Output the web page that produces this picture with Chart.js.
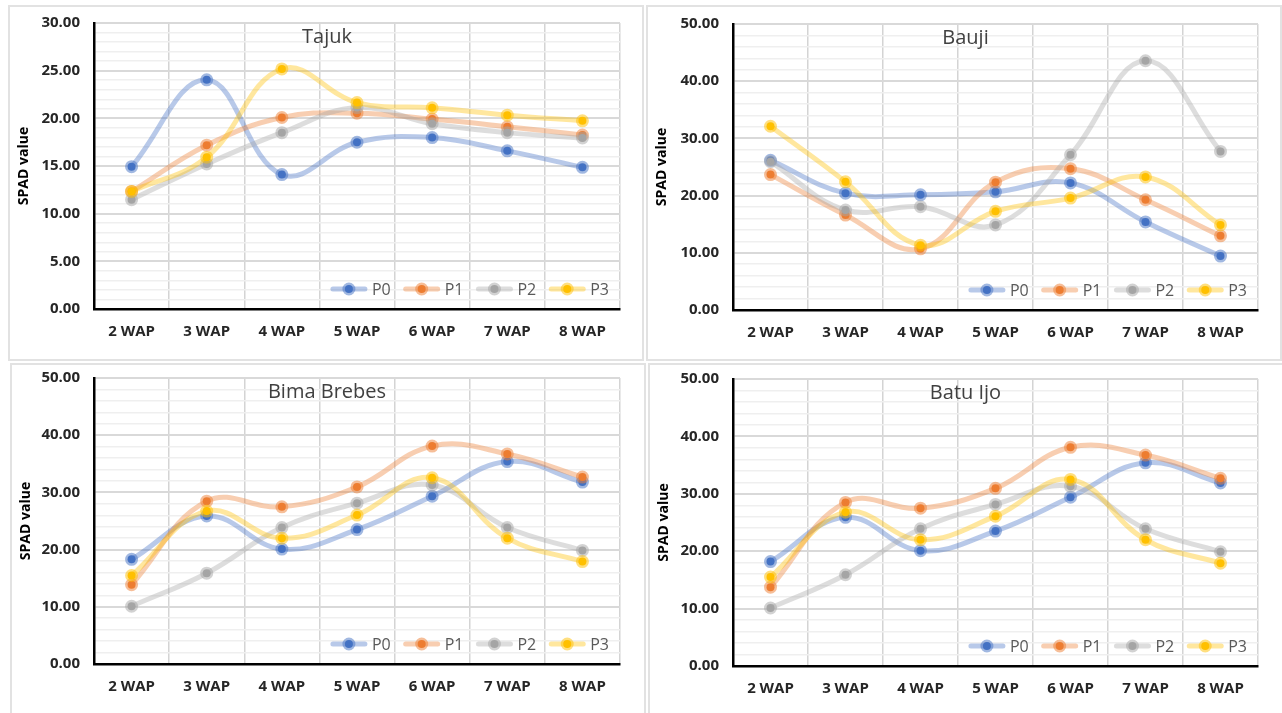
<!DOCTYPE html>
<html>
<head>
<meta charset="utf-8">
<script src="https://cdn.jsdelivr.net/npm/chart.js@4.4.1/dist/chart.umd.min.js"></script>
<style>
  html, body { margin: 0; padding: 0; background: #fff; }
  body { width: 1282px; height: 713px; position: relative; overflow: hidden; }
  .panel { position: absolute; border: 2px solid #e2e2e2; background: #fff; overflow: hidden; }
  .panel canvas { display: block; }
</style>
</head>
<body>
<div class="panel" style="left:8px;top:5px;width:632px;height:352px;"><canvas id="c1" width="632" height="359" style="margin-top:-7px"></canvas></div>
<div class="panel" style="left:646px;top:5px;width:632px;height:352px;"><canvas id="c2" width="632" height="358" style="margin-top:-6px"></canvas></div>
<div class="panel" style="left:10px;top:363px;width:632px;height:352px;"><canvas id="c3" width="632" height="362" style="margin-top:-10px"></canvas></div>
<div class="panel" style="left:648px;top:363px;width:632px;height:352px;"><canvas id="c4" width="632" height="361" style="margin-top:-9px"></canvas></div>
<script>
// categories and series
var categories = ['2 WAP', '3 WAP', '4 WAP', '5 WAP', '6 WAP', '7 WAP', '8 WAP'];
var seriesNames = ['P0', 'P1', 'P2', 'P3'];

// Tajuk
var tajukP0 = [14.93, 24.04, 14.10, 17.49, 17.98, 16.59, 14.86];
var tajukP1 = [12.33, 17.18, 20.09, 20.54, 19.92, 19.12, 18.25];
var tajukP2 = [11.47, 15.21, 18.50, 21.13, 19.43, 18.50, 17.94];
var tajukP3 = [12.33, 15.93, 25.18, 21.65, 21.10, 20.33, 19.74];

// Bauji
var baujiP0 = [26.16, 20.43, 20.14, 20.66, 22.22, 15.39, 9.43];
var baujiP1 = [23.67, 16.60, 10.70, 22.34, 24.71, 19.27, 12.96];
var baujiP2 = [25.93, 17.48, 18.06, 14.87, 27.14, 43.58, 27.72];
var baujiP3 = [32.12, 22.40, 11.34, 17.25, 19.56, 23.26, 14.87];

// Bima Brebes
var bimaP0 = [18.30, 25.87, 20.09, 23.50, 29.33, 35.39, 31.81];
var bimaP1 = [13.86, 28.46, 27.48, 30.95, 38.10, 36.72, 32.68];
var bimaP2 = [10.10, 15.88, 23.85, 28.12, 31.29, 23.85, 19.86];
var bimaP3 = [15.47, 26.73, 22.00, 26.04, 32.56, 22.00, 17.90];

// Batu Ijo
var batuP0 = [18.19, 25.90, 20.10, 23.50, 29.40, 35.40, 31.90];
var batuP1 = [13.74, 28.50, 27.50, 30.95, 38.10, 36.75, 32.70];
var batuP2 = [10.10, 15.90, 23.90, 28.15, 31.30, 23.90, 19.90];
var batuP3 = [15.50, 26.80, 22.00, 26.10, 32.50, 22.00, 17.90];

// y axis tick settings
var tajukYMax = 30, tajukYMajor = 5;
var otherYMax = 50, otherYMajor = 10;

var baseColors = [[68, 114, 196], [237, 125, 49], [165, 165, 165], [255, 192, 0]];
function rgba(c, a) { return 'rgba(' + c[0] + ',' + c[1] + ',' + c[2] + ',' + a + ')'; }

var FONT = "'Open Sans', 'Noto Sans', sans-serif";

// title drawn inside the plot, a bit left of centre
var innerTitle = {
  id: 'innerTitle',
  afterDraw: function (chart, args, opts) {
    var ctx = chart.ctx, a = chart.chartArea;
    ctx.save();
    ctx.font = '20px ' + FONT;
    ctx.fillStyle = '#404040';
    ctx.textAlign = 'center';
    ctx.textBaseline = 'middle';
    ctx.fillText(opts.text, (a.left + a.right) / 2 - 30, a.top + 14);
    ctx.restore();
  }
};

// legend drawn inside the plot, bottom right
var innerLegend = {
  id: 'innerLegend',
  afterDraw: function (chart) {
    var ctx = chart.ctx, a = chart.chartArea;
    var lineLen = 36, gap = 5, itemGap = 13;
    ctx.save();
    ctx.font = '16px ' + FONT;
    var ds = chart.data.datasets;
    var total = 0;
    ds.forEach(function (d, i) {
      total += lineLen + gap + ctx.measureText(d.label).width;
      if (i < ds.length - 1) total += itemGap;
    });
    var x = a.right - 11 - total;
    var y = a.bottom - 20;
    ds.forEach(function (d, i) {
      var c = baseColors[i];
      ctx.strokeStyle = rgba(c, 0.38);
      ctx.lineWidth = 5;
      ctx.lineCap = 'round';
      ctx.beginPath();
      ctx.moveTo(x + 2, y);
      ctx.lineTo(x + lineLen - 2, y);
      ctx.stroke();
      var mx = x + lineLen / 2;
      ctx.beginPath();
      ctx.arc(mx, y, 4, 0, Math.PI * 2);
      ctx.fillStyle = rgba(c, 1);
      ctx.fill();
      ctx.lineWidth = 5;
      ctx.strokeStyle = rgba(c, 0.5);
      ctx.stroke();
      x += lineLen + gap;
      ctx.fillStyle = '#595959';
      ctx.textAlign = 'left';
      ctx.textBaseline = 'middle';
      ctx.fillText(d.label, x, y + 1);
      x += ctx.measureText(d.label).width + itemGap;
    });
    ctx.restore();
  }
};

function isMajor(v, major) {
  return Math.abs(v / major - Math.round(v / major)) < 1e-6;
}

function makeChart(id, title, series, yMax, yMajor, geom) {
  var datasets = series.map(function (vals, i) {
    var c = baseColors[i];
    return {
      label: seriesNames[i],
      data: vals,
      borderColor: rgba(c, 0.38),
      borderWidth: 5,
      tension: 0.4,
      pointRadius: 4,
      pointHoverRadius: 4,
      pointBackgroundColor: rgba(c, 1),
      pointBorderColor: rgba(c, 0.5),
      pointBorderWidth: 5,
      order: 3 - i
    };
  });
  return new Chart(document.getElementById(id), {
    type: 'line',
    data: { labels: categories, datasets: datasets },
    plugins: [innerTitle, innerLegend],
    options: {
      responsive: false,
      animation: false,
      clip: false,
      layout: { autoPadding: false, padding: { left: 0, top: 0, right: geom.right, bottom: 0 } },
      plugins: {
        legend: { display: false },
        tooltip: { enabled: false },
        innerTitle: { text: title }
      },
      scales: {
        x: {
          offset: true,
          afterFit: function (s) { s.height = geom.xh; },
          grid: { color: '#d4d4d4', lineWidth: 1.5, drawTicks: false, offset: true },
          border: { color: '#000', width: 2.5 },
          ticks: { padding: 14, color: '#262626', font: { family: FONT, size: 15, weight: 'bold' } }
        },
        y: {
          min: 0,
          max: yMax,
          afterFit: function (s) { s.width = geom.left; },
          grid: {
            drawTicks: false,
            color: function (ctx) {
              return isMajor(ctx.tick ? ctx.tick.value : 0, yMajor) ? '#d9d9d9' : '#efefef';
            },
            lineWidth: function (ctx) {
              return isMajor(ctx.tick ? ctx.tick.value : 0, yMajor) ? 2 : 1.5;
            }
          },
          border: { color: '#000', width: 2.5 },
          ticks: {
            stepSize: yMajor / 5,
            autoSkip: false,
            padding: 14,
            color: '#262626',
            font: { family: FONT, size: 15, weight: 'bold' },
            callback: function (v) {
              return isMajor(v, yMajor) ? Number(v).toFixed(2) : '';
            }
          },
          title: {
            display: true,
            text: 'SPAD value',
            color: '#000',
            padding: { top: 6, bottom: 0 },
            font: { family: FONT, size: 14, weight: 'bold' }
          }
        }
      }
    }
  });
}

makeChart('c1', 'Tajuk', [tajukP0, tajukP1, tajukP2, tajukP3], tajukYMax, tajukYMajor,
  { left: 84, right: 22, xh: 50 });
makeChart('c2', 'Bauji', [baujiP0, baujiP1, baujiP2, baujiP3], otherYMax, otherYMajor,
  { left: 85, right: 22, xh: 49 });
makeChart('c3', 'Bima Brebes', [bimaP0, bimaP1, bimaP2, bimaP3], otherYMax, otherYMajor,
  { left: 82, right: 24, xh: 53 });
makeChart('c4', 'Batu Ijo', [batuP0, batuP1, batuP2, batuP3], otherYMax, otherYMajor,
  { left: 83, right: 24, xh: 51 });
</script>
</body>
</html>
